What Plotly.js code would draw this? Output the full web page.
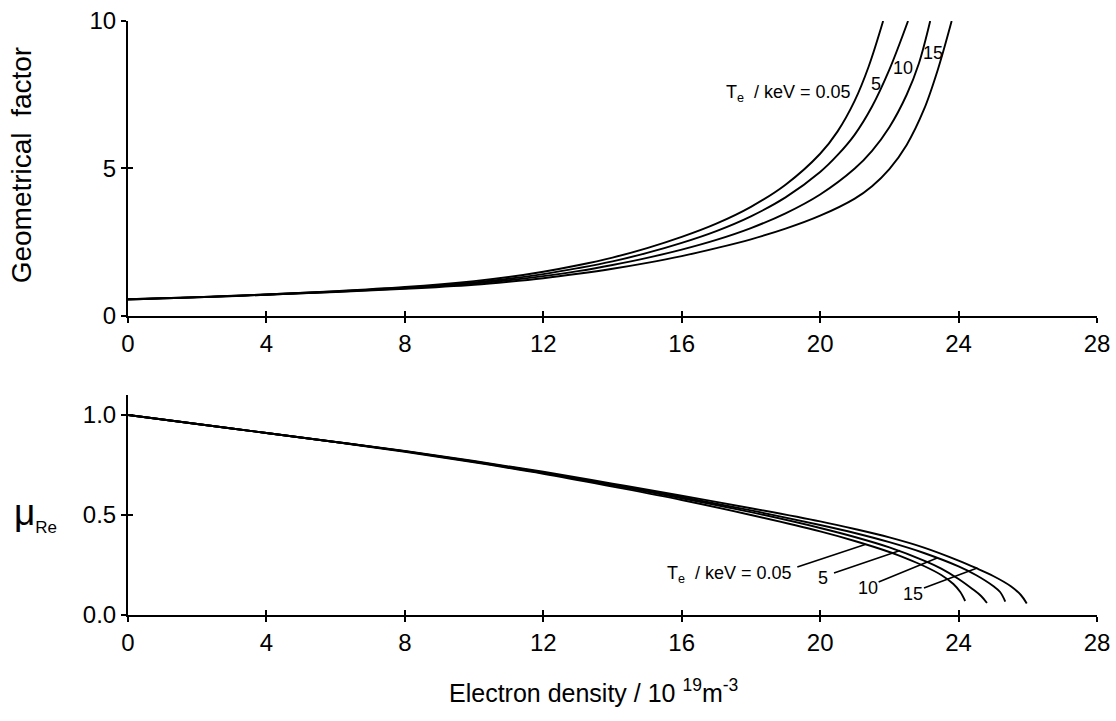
<!DOCTYPE html>
<html>
<head>
<meta charset="utf-8">
<script src="https://cdn.plot.ly/plotly-3.0.1.min.js"></script>
<style>
html,body{margin:0;padding:0;background:#fff;}
#chart{width:1116px;height:721px;}
</style>
</head>
<body>
<div id="chart"></div>
<script>
// ---- Data ----
const xTicks = [0, 4, 8, 12, 16, 20, 24, 28];
const gTicks = [0, 5, 10];
const muTicks = [0.0, 0.5, 1.0];
const muTickLabels = ["0.0", "0.5", "1.0"];

// Geometrical factor vs electron density (10^19 m^-3), one series per Te (keV)
const geo_n_005 = [0, 2, 4, 6, 8, 10, 11, 12, 13, 14, 15, 16, 17, 18, 19, 20, 20.5, 21, 21.4, 21.82];
const geo_v_005 = [0.57, 0.64, 0.73, 0.84, 0.98, 1.18, 1.32, 1.5, 1.72, 1.98, 2.3, 2.68, 3.13, 3.7, 4.45, 5.5, 6.25, 7.3, 8.45, 10];

const geo_n_5 = [0, 2, 4, 6, 8, 10, 11, 12, 13, 14, 15, 16, 17, 18, 19, 20, 20.5, 21, 21.5, 22, 22.54];
const geo_v_5 = [0.57, 0.64, 0.73, 0.83, 0.96, 1.14, 1.26, 1.42, 1.62, 1.85, 2.14, 2.48, 2.88, 3.38, 4.02, 4.88, 5.45, 6.15, 7.1, 8.35, 10];

const geo_n_10 = [0, 2, 4, 6, 8, 10, 11, 12, 13, 14, 15, 16, 17, 18, 19, 20, 21, 21.5, 22, 22.5, 22.85, 23.18];
const geo_v_10 = [0.56, 0.63, 0.72, 0.82, 0.94, 1.1, 1.21, 1.35, 1.52, 1.73, 1.97, 2.25, 2.58, 2.98, 3.48, 4.12, 5.0, 5.6, 6.4, 7.5, 8.55, 10];

const geo_n_15 = [0, 2, 4, 6, 8, 10, 11, 12, 13, 14, 15, 16, 17, 18, 19, 20, 21, 21.5, 22, 22.5, 23, 23.4, 23.8];
const geo_v_15 = [0.56, 0.63, 0.72, 0.81, 0.92, 1.06, 1.16, 1.28, 1.43, 1.6, 1.8, 2.03, 2.3, 2.6, 2.96, 3.4, 3.98, 4.4, 4.98, 5.8, 7.0, 8.35, 10];

// mu_Re vs electron density
const mu_n_005 = [0, 2, 4, 6, 8, 10, 12, 14, 16, 18, 20, 21, 22, 22.5, 23, 23.5, 23.85, 24.05, 24.19];
const mu_v_005 = [1.0, 0.955, 0.91, 0.864, 0.816, 0.763, 0.706, 0.642, 0.575, 0.5, 0.418, 0.37, 0.315, 0.282, 0.245, 0.2, 0.155, 0.115, 0.07];

const mu_n_5 = [0, 2, 4, 6, 8, 10, 12, 14, 16, 18, 20, 21, 22, 23, 23.5, 24, 24.4, 24.65, 24.82];
const mu_v_5 = [1.0, 0.955, 0.91, 0.865, 0.818, 0.766, 0.71, 0.648, 0.584, 0.514, 0.435, 0.39, 0.338, 0.272, 0.232, 0.18, 0.13, 0.095, 0.06];

const mu_n_10 = [0, 2, 4, 6, 8, 10, 12, 14, 16, 18, 20, 21, 22, 23, 24, 24.5, 25, 25.2, 25.35];
const mu_v_10 = [1.0, 0.955, 0.91, 0.865, 0.819, 0.768, 0.713, 0.652, 0.59, 0.523, 0.45, 0.41, 0.364, 0.31, 0.243, 0.2, 0.145, 0.115, 0.067];

const mu_n_15 = [0, 2, 4, 6, 8, 10, 12, 14, 16, 18, 20, 21, 22, 23, 24, 24.5, 25, 25.5, 25.8, 25.97];
const mu_v_15 = [1.0, 0.955, 0.91, 0.865, 0.82, 0.77, 0.716, 0.657, 0.596, 0.534, 0.468, 0.43, 0.388, 0.337, 0.272, 0.235, 0.195, 0.145, 0.1, 0.058];

// ---- Chart ----
const FONT = "Liberation Sans, Arial, Helvetica, sans-serif";
const lineStyle = {color: "#000", width: 1.9, shape: "spline", smoothing: 1};

function tr(x, y, name, xa, ya) {
  return {x: x, y: y, name: name, type: "scatter", mode: "lines",
          line: lineStyle, xaxis: xa, yaxis: ya, hoverinfo: "x+y+name"};
}
function dummy(xa, ya) {
  return {x: [null], y: [null], type: "scatter", mode: "lines", xaxis: xa, yaxis: ya,
          hoverinfo: "skip", showlegend: false};
}

const traces = [
  tr(geo_n_005, geo_v_005, "0.05 keV", "x", "y"),
  tr(geo_n_5, geo_v_5, "5 keV", "x", "y"),
  tr(geo_n_10, geo_v_10, "10 keV", "x", "y"),
  tr(geo_n_15, geo_v_15, "15 keV", "x", "y"),
  tr(mu_n_005, mu_v_005, "0.05 keV", "x2", "y2"),
  tr(mu_n_5, mu_v_5, "5 keV", "x2", "y2"),
  tr(mu_n_10, mu_v_10, "10 keV", "x2", "y2"),
  tr(mu_n_15, mu_v_15, "15 keV", "x2", "y2"),
  dummy("x3", "y3"),
  dummy("x4", "y4")
];

const axisCommon = {
  showline: true, linecolor: "#000", linewidth: 2,
  ticks: "outside", ticklen: 5, tickwidth: 1.5, tickcolor: "#000",
  showgrid: false, zeroline: false,
  tickfont: {family: FONT, size: 24, color: "#000"}
};
// inner half of the crossing tick marks
const innerTicks = {
  showline: false, ticks: "inside", ticklen: 5, tickwidth: 1.5, tickcolor: "#000",
  showgrid: false, zeroline: false, showticklabels: false
};

const lblFont = {family: FONT, size: 18, color: "#000"};
function lbl(x, y, text, xa, ya, xanchor) {
  return {x: x, y: y, xref: xa, yref: ya, text: text, showarrow: false,
          xanchor: xanchor || "center", yanchor: "middle", font: lblFont};
}

const annotations = [
  // top panel labels
  lbl(20.95, 7.55, "T<sub>e</sub>  / keV = 0.05", "x", "y", "right"),
  lbl(21.62, 7.88, "5", "x", "y"),
  lbl(22.4, 8.4, "10", "x", "y"),
  lbl(23.27, 8.9, "15", "x", "y"),
  // bottom panel labels
  lbl(19.25, 0.2, "T<sub>e</sub>  / keV = 0.05", "x2", "y2", "right"),
  lbl(20.09, 0.185, "5", "x2", "y2"),
  lbl(21.39, 0.135, "10", "x2", "y2"),
  lbl(22.69, 0.105, "15", "x2", "y2"),
  // axis titles
  {x: -0.109, y: 0.7576, xref: "paper", yref: "paper", text: "Geometrical  factor",
   textangle: -90, showarrow: false, xanchor: "center", yanchor: "middle",
   font: {family: FONT, size: 28, color: "#000"}},
  {x: -0.12, y: 0.17, xref: "paper", yref: "paper",
   text: "μ<sub><span style='font-size:17px'>Re</span></sub>",
   showarrow: false, xanchor: "left", yanchor: "middle",
   font: {family: FONT, size: 37, color: "#000"}},
  {x: 0.48, y: -0.128, xref: "paper", yref: "paper",
   text: "Electron density / 10 <sup>19</sup>m<sup>-3</sup>",
   showarrow: false, xanchor: "center", yanchor: "middle",
   font: {family: FONT, size: 25, color: "#000"}}
];

function leader(x0, y0, x1, y1) {
  return {type: "line", xref: "x2", yref: "y2", x0: x0, y0: y0, x1: x1, y1: y1,
          line: {color: "#000", width: 1.6}};
}
const shapes = [
  leader(19.34, 0.24, 21.3, 0.352),
  leader(20.4, 0.21, 22.31, 0.322),
  leader(21.69, 0.165, 23.38, 0.285),
  leader(23.0, 0.135, 24.54, 0.235)
];

const layout = {
  width: 1116, height: 721,
  margin: {l: 128, r: 19, t: 21, b: 106},
  paper_bgcolor: "#fff", plot_bgcolor: "#fff",
  showlegend: false,
  font: {family: FONT, color: "#000"},
  xaxis: Object.assign({}, axisCommon, {range: [0, 28], tickvals: xTicks, anchor: "y", domain: [0, 1]}),
  yaxis: Object.assign({}, axisCommon, {range: [0, 10], tickvals: gTicks, anchor: "x", domain: [0.5034, 1]}),
  xaxis2: Object.assign({}, axisCommon, {range: [0, 28], tickvals: xTicks, anchor: "y2", domain: [0, 1]}),
  yaxis2: Object.assign({}, axisCommon, {range: [0, 1.1], tickvals: muTicks, ticktext: muTickLabels, anchor: "x2", domain: [0, 0.3704]}),
  xaxis3: Object.assign({}, innerTicks, {overlaying: "x", anchor: "y3", range: [0, 28], tickvals: xTicks}),
  yaxis3: Object.assign({}, innerTicks, {overlaying: "y", anchor: "x3", range: [0, 10], tickvals: gTicks}),
  xaxis4: Object.assign({}, innerTicks, {overlaying: "x2", anchor: "y4", range: [0, 28], tickvals: xTicks}),
  yaxis4: Object.assign({}, innerTicks, {overlaying: "y2", anchor: "x4", range: [0, 1.1], tickvals: muTicks}),
  annotations: annotations,
  shapes: shapes
};

Plotly.newPlot("chart", traces, layout, {displayModeBar: false, responsive: false});
</script>
</body>
</html>
